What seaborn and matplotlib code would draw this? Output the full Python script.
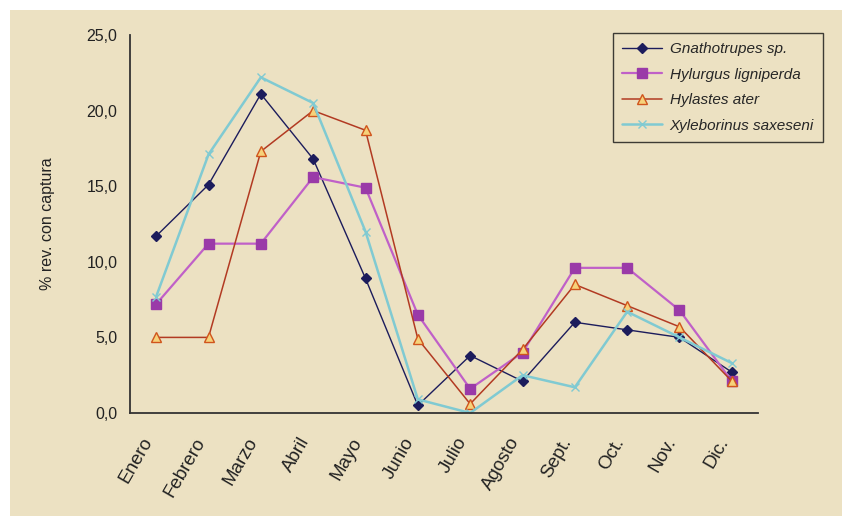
import matplotlib
matplotlib.use("Agg")
import matplotlib.pyplot as plt
import seaborn as sns
import pandas as pd
from matplotlib.ticker import FixedLocator, FuncFormatter
from matplotlib.patches import Rectangle

months = ["Enero", "Febrero", "Marzo", "Abril", "Mayo", "Junio", "Julio",
          "Agosto", "Sept.", "Oct.", "Nov.", "Dic."]
gnathotrupes = [11.7, 15.1, 21.1, 16.8, 8.9, 0.5, 3.8, 2.1, 6.0, 5.5, 5.0, 2.7]
hylurgus = [7.2, 11.2, 11.2, 15.6, 14.9, 6.5, 1.6, 4.0, 9.6, 9.6, 6.8, 2.1]
hylastes = [5.0, 5.0, 17.3, 20.0, 18.7, 4.9, 0.6, 4.2, 8.5, 7.1, 5.7, 2.1]
xyleborinus = [7.7, 17.1, 22.2, 20.5, 12.0, 0.9, 0.0, 2.5, 1.7, 6.7, 5.0, 3.3]
series_names = ["Gnathotrupes sp.", "Hylurgus ligniperda", "Hylastes ater",
                "Xyleborinus saxeseni"]
y_ticks = [0, 5, 10, 15, 20, 25]

frames = []
for name, vals in zip(series_names, [gnathotrupes, hylurgus, hylastes, xyleborinus]):
    frames.append(pd.DataFrame({"mes": months, "valor": vals, "especie": name}))
df = pd.concat(frames, ignore_index=True)

sns.set_style("white")
plt.rcParams["font.family"] = ["Liberation Sans", "DejaVu Sans"]

bg = "#ece1c2"
fig = plt.figure(figsize=(8.42, 5.16), dpi=100)
fig.patch.set_facecolor("white")
fig.patches.append(Rectangle((10 / 842, 0), 1, 1 - 10 / 516, transform=fig.transFigure,
                             facecolor=bg, edgecolor="none", zorder=-10))
ax = fig.add_axes([130 / 842, 1 - 413 / 516, (758 - 130) / 842, (413 - 35) / 516])
ax.set_facecolor("none")

palette = {
    "Gnathotrupes sp.": "#1c1c5c",
    "Hylurgus ligniperda": "#c060c8",
    "Hylastes ater": "#b23a22",
    "Xyleborinus saxeseni": "#80cad2",
}
styles = {
    "Gnathotrupes sp.": dict(marker="D", ms=5, mfc="#1c1c5c", mec="#1c1c5c", lw=1.0),
    "Hylurgus ligniperda": dict(marker="s", ms=7, mfc="#9a3aa8", mec="#9a3aa8", lw=1.6),
    "Hylastes ater": dict(marker="^", ms=7, mfc="#f6d27a", mec="#d0541c", lw=1.1),
    "Xyleborinus saxeseni": dict(marker="x", ms=6, mfc="#80cad2", mec="#80cad2", lw=1.8),
}

for name in series_names:
    sub = df[df["especie"] == name]
    st = styles[name]
    sns.lineplot(data=sub, x="mes", y="valor", ax=ax, color=palette[name],
                 marker=st["marker"], markersize=st["ms"], markerfacecolor=st["mfc"],
                 markeredgecolor=st["mec"], markeredgewidth=1.0, linewidth=st["lw"],
                 label=name, sort=False)

ax.set_xlim(-0.5, 11.5)
ax.set_ylim(0, 25)
ax.set_yticks(y_ticks)
ax.yaxis.set_major_formatter(FuncFormatter(lambda v, p: f"{v:.1f}".replace(".", ",")))
ax.set_xticks(range(len(months)))
ax.xaxis.set_minor_locator(FixedLocator([i + 0.5 for i in range(12)]))
ax.tick_params(axis="x", which="major", length=0, labelbottom=False)
ax.tick_params(axis="x", which="minor", length=6, width=1.2, direction="out", color="#333333")
ax.tick_params(axis="y", which="major", length=6, width=1.2, direction="out",
               labelsize=11.5, colors="#222222", pad=3)
ax.tick_params(axis="y", colors="#333333")
for lab in ax.get_yticklabels():
    lab.set_color("#222222")

# month labels placed at the category positions of the x scale
for i, m in enumerate(months):
    ax.annotate(m, xy=(i, 0), xycoords=("data", "axes fraction"),
                xytext=(-10.5, -15.5), textcoords="offset points",
                rotation=60, ha="right", va="top", rotation_mode="anchor",
                fontsize=13.5, color="#222222", annotation_clip=False)

for s in ["top", "right"]:
    ax.spines[s].set_visible(False)
for s in ["left", "bottom"]:
    ax.spines[s].set_color("#333333")
    ax.spines[s].set_linewidth(1.3)

ax.set_xlabel("")
ax.set_ylabel("% rev. con captura", fontsize=11.5, color="#222222")
ax.yaxis.set_label_coords(-0.119, 0.5)

leg = ax.legend(loc="upper right", bbox_to_anchor=(823 / 842, 1 - 33 / 516),
                bbox_transform=fig.transFigure, frameon=True, fancybox=False,
                edgecolor="#111111", facecolor="none", framealpha=None,
                prop={"style": "italic", "size": 11}, handlelength=2.6,
                borderpad=0.6, labelspacing=0.75, handletextpad=0.5,
                borderaxespad=0)
leg.get_frame().set_linewidth(1.0)

fig.savefig("out.png", dpi=100, facecolor=fig.get_facecolor())
